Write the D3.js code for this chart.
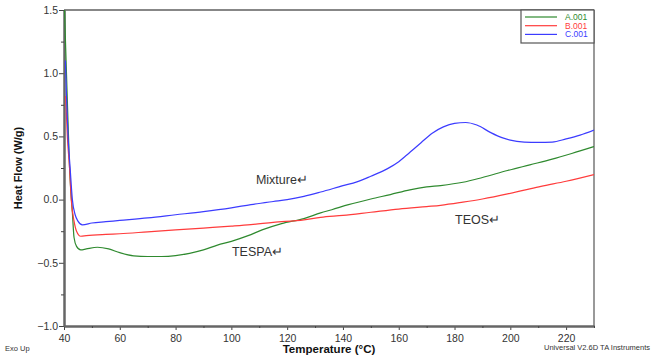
<!DOCTYPE html>
<html><head><meta charset="utf-8">
<script src="https://cdn.jsdelivr.net/npm/d3@7"></script>
<style>body{margin:0;background:#fff}svg{display:block}text{font-family:"Liberation Sans",Arial,sans-serif}</style>
</head><body>
<div id="chart"></div>
<script>
// Data (Temperature °C, Heat Flow W/g)
const seriesNames = ["A.001", "B.001", "C.001"];
const seriesLabels = ["TESPA↵", "TEOS↵", "Mixture↵"];
const tempA = [40.2,40.6,41.2,42.0,43.0,43.6,44.5,46,48,52,56,60,65,70,75,80,85,90,95,100,106,111,118,126,132,136,142,150,157,164,170,175,183,190,199,207,215,222,230];
const flowA = [1.5,1.2,0.78,0.25,-0.1,-0.3,-0.37,-0.398,-0.39,-0.377,-0.39,-0.42,-0.445,-0.45,-0.45,-0.443,-0.425,-0.398,-0.36,-0.33,-0.285,-0.24,-0.19,-0.15,-0.105,-0.08,-0.04,0.005,0.04,0.077,0.1,0.111,0.137,0.175,0.23,0.275,0.32,0.365,0.42];
const tempB = [40.6,41.2,42.0,42.6,43.6,44.5,46.0,48,55,60,70,80,90,100,107,115,126,132,140,150,160,170,175,183,190,199,205,211,220,230];
const flowB = [0.82,0.5,0.25,0.0,-0.17,-0.25,-0.29,-0.285,-0.275,-0.27,-0.255,-0.24,-0.225,-0.21,-0.198,-0.18,-0.16,-0.14,-0.125,-0.10,-0.075,-0.055,-0.045,-0.02,0.005,0.045,0.075,0.105,0.145,0.198];
const tempC = [40.5,41.0,41.5,42.2,43.0,44.0,45.0,46.6,50,55,60,70,80,90,100,107,115,120,126,132,140,145,150,156,160,163,168,172,176,180,184,188,193,197,200,205,210,215,220,225,230];
const flowC = [1.10,0.75,0.48,0.25,0.0,-0.12,-0.17,-0.20,-0.185,-0.175,-0.165,-0.145,-0.12,-0.095,-0.065,-0.04,-0.015,0.0,0.026,0.06,0.11,0.14,0.185,0.245,0.30,0.355,0.45,0.525,0.575,0.603,0.61,0.59,0.53,0.49,0.47,0.455,0.452,0.455,0.48,0.51,0.55];
const xTicks = [40,60,80,100,120,140,160,180,200,220];
const yTicks = [-1.0,-0.5,0.0,0.5,1.0,1.5];
// label anchor points (°C, W/g)
const annT = [100.2, 180.2, 108.8];
const annV = [-0.45, -0.19, 0.12];

const colors = ["#2f8a2f", "#ff3c3c", "#3c3cff"];
const W = 658, H = 358;
const m = {left: 64, right: 594, top: 10, bottom: 326};

const svg = d3.select("#chart").append("svg").attr("width", W).attr("height", H);
const x = d3.scaleLinear().domain([40, 230]).range([m.left, m.right]);
const y = d3.scaleLinear().domain([-1.0, 1.5]).range([m.bottom, m.top]);

// frame: top (black) and right (grey)
svg.append("line").attr("x1", m.left).attr("x2", m.right).attr("y1", m.top).attr("y2", m.top)
  .attr("stroke", "#111").attr("stroke-width", 1.2);
svg.append("line").attr("x1", m.right).attr("x2", m.right).attr("y1", m.top).attr("y2", m.bottom)
  .attr("stroke", "#777").attr("stroke-width", 1.5);

// Axes
const xAxis = svg.append("g").attr("transform", `translate(0,${m.bottom})`)
  .call(d3.axisBottom(x).tickValues(xTicks).tickFormat(d3.format("d")).tickSize(4).tickSizeOuter(0));
const xMinor = svg.append("g").attr("transform", `translate(0,${m.bottom})`)
  .call(d3.axisBottom(x).tickValues(d3.range(50, 231, 20)).tickFormat("").tickSize(2).tickSizeOuter(0));
const yAxis = svg.append("g").attr("transform", `translate(${m.left},0)`)
  .call(d3.axisLeft(y).tickValues(yTicks).tickFormat(d3.format(".1f")).tickSize(5).tickSizeOuter(0));
const yMinor = svg.append("g").attr("transform", `translate(${m.left},0)`)
  .call(d3.axisLeft(y).tickValues([-0.75,-0.25,0.25,0.75,1.25]).tickFormat("").tickSize(3).tickSizeOuter(0));
[xAxis, xMinor, yAxis, yMinor].forEach(g => {
  g.select(".domain").attr("stroke", "#666").attr("stroke-width", 2);
  g.selectAll(".tick line").attr("stroke", "#444");
  g.selectAll(".tick text").attr("fill", "#333").style("font-size", "10.5px")
    .style("font-family", '"Liberation Sans",Arial,sans-serif');
});
xAxis.selectAll(".tick text").attr("dy", "0.85em");
yAxis.selectAll(".tick text").attr("x", -6);

// Lines
const tempsAll = [tempA, tempB, tempC];
const flowsAll = [flowA, flowB, flowC];
const line = d3.line().x(d => x(d[0])).y(d => y(d[1])).curve(d3.curveMonotoneX);
svg.append("clipPath").attr("id", "clip").append("rect")
  .attr("x", m.left).attr("y", m.top).attr("width", m.right - m.left).attr("height", m.bottom - m.top);
[0, 1, 2].forEach(i => {
  const pts = tempsAll[i].map((t, j) => [t, flowsAll[i][j]]);
  svg.append("path").datum(pts).attr("d", line).attr("fill", "none")
    .attr("stroke", colors[i]).attr("stroke-width", 1.2).attr("clip-path", "url(#clip)");
});

// Annotations
[0, 1, 2].forEach(i => {
  svg.append("text").attr("x", x(annT[i])).attr("y", y(annV[i]))
    .attr("fill", "#333").style("font-size", "12.5px").text(seriesLabels[i]);
});

// Legend
const lg = svg.append("g");
lg.append("rect").attr("x", 521).attr("y", m.top).attr("width", m.right - 521).attr("height", 33)
  .attr("fill", "#fff").attr("stroke", "#555").attr("stroke-width", 1.2);
seriesNames.forEach((n, i) => {
  const yy = 17 + i * 8.7;
  lg.append("line").attr("x1", 525).attr("x2", 557).attr("y1", yy).attr("y2", yy)
    .attr("stroke", colors[i]).attr("stroke-width", 1.2);
  lg.append("text").attr("x", 565).attr("y", yy + 3).attr("fill", colors[i])
    .style("font-size", "8.5px").text(n);
});

// Titles
svg.append("text").attr("x", (m.left + m.right) / 2).attr("y", 353).attr("text-anchor", "middle")
  .style("font-size", "11.5px").style("font-weight", "bold").attr("fill", "#111").text("Temperature (°C)");
svg.append("text").attr("transform", `translate(22,${(m.top + m.bottom) / 2}) rotate(-90)`)
  .attr("text-anchor", "middle").style("font-size", "11px").style("font-weight", "bold")
  .attr("fill", "#111").text("Heat Flow (W/g)");
svg.append("text").attr("x", 5).attr("y", 351).style("font-size", "7.5px").attr("fill", "#333").text("Exo Up");
svg.append("text").attr("x", 650).attr("y", 350).attr("text-anchor", "end").style("font-size", "7.5px")
  .attr("fill", "#333").text("Universal V2.6D TA Instruments");
</script>
</body></html>
